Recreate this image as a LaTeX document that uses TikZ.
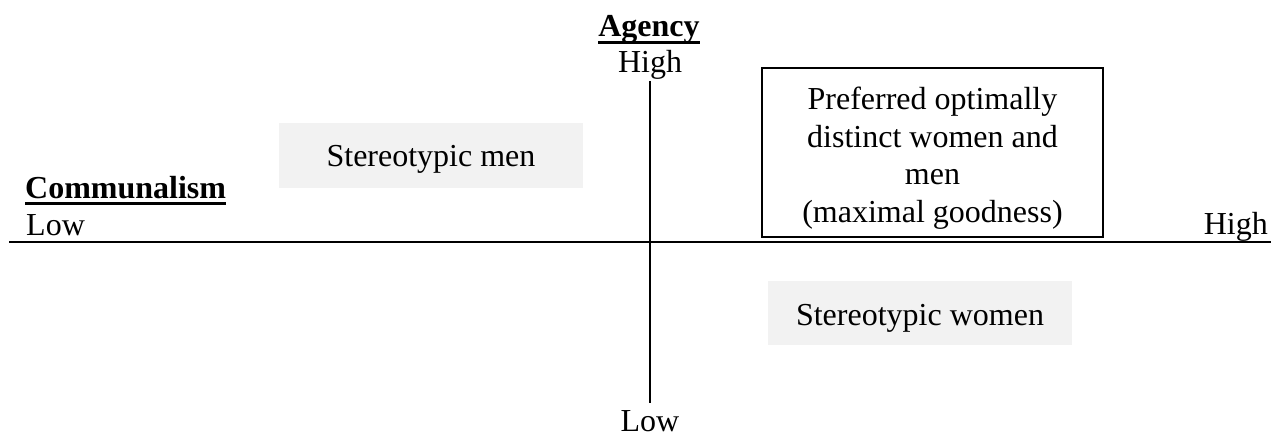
\documentclass[tikz,border=0pt]{standalone}
\usepackage{fontspec}
\setmainfont{Liberation Serif}
\definecolor{boxgray}{HTML}{F2F2F2}
\begin{document}
\begin{tikzpicture}[x=1pt,y=-1pt,
  lbl/.style={inner sep=0pt, anchor=base, font=\fontsize{32}{37.5}\selectfont},
  head/.style={lbl, font=\fontsize{32}{37.5}\selectfont\bfseries},
  axis/.style={line width=2pt},
  ul/.style={line width=2.6pt}]
\useasboundingbox (0,0) rectangle (1278,436);
% grey boxes
\fill[boxgray] (279,123) rectangle (583,188);
\fill[boxgray] (768,281) rectangle (1072,345);
\node[lbl] (men) at (431,166) {Stereotypic men};
\node[lbl] (women) at (920,325) {Stereotypic women};
% bordered box
\draw[line width=1.8pt] (762,68) rectangle (1103,237);
\node[lbl, align=center, anchor=north] (pref) at (932.5,87)
  {Preferred optimally\\distinct women and\\men\\(maximal goodness)};
% labels
\node[head] (agency) at (649,37) {Agency};
\draw[ul] ([yshift=-5.5]agency.base west) -- ([yshift=-5.5]agency.base east);
\node[lbl] (ahigh) at (650,73) {High};
\node[lbl] (alow) at (650,431) {Low};
\node[head, anchor=base west] (comm) at (25,198) {Communalism};
\draw[ul] ([yshift=-5.5]comm.base west) -- ([yshift=-5.5]comm.base east);
\node[lbl, anchor=base west] (clow) at (26,235) {Low};
\node[lbl, anchor=base east] (chigh) at (1268,234) {High};
% axes
\coordinate (hl) at (9,242);
\coordinate (hr) at (1271,242);
\coordinate (vt) at (650,81);
\coordinate (vb) at (650,403);
\draw[axis] (hl) -- (hr);
\draw[axis] (vt) -- (vb);
\end{tikzpicture}
\end{document}
